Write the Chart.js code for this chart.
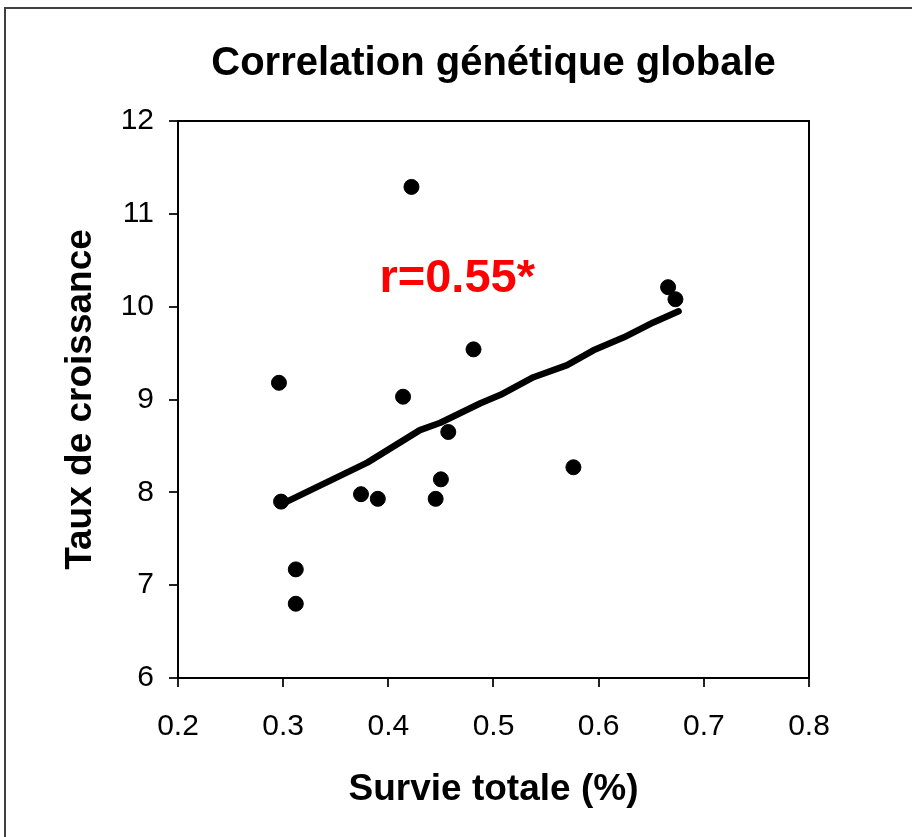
<html>
<head>
<meta charset="utf-8">
<script src="https://cdn.jsdelivr.net/npm/chart.js@4.4.0/dist/chart.umd.min.js"></script>
<style>
  body { margin: 0; background: #fff; }
  #wrap { width: 912px; height: 837px; }
</style>
</head>
<body>
<div id="wrap"><canvas id="corrChart" width="912" height="837"></canvas></div>

<script>
// données
const survie = [0.296, 0.298, 0.312, 0.312, 0.374, 0.390, 0.414, 0.422, 0.445, 0.450, 0.457, 0.481, 0.576, 0.666, 0.673];
const croissance = [9.18, 7.90, 7.17, 6.80, 7.98, 7.93, 9.03, 11.29, 7.93, 8.14, 8.65, 9.54, 8.27, 10.21, 10.08];

// droite de tendance (un peu ondulee sur l'original)
const trendX = [0.3035, 0.380, 0.430, 0.4495, 0.4876, 0.5067, 0.538, 0.570, 0.595, 0.624, 0.652, 0.676];
const trendY = [7.90, 8.32, 8.67, 8.75, 8.96, 9.05, 9.24, 9.37, 9.53, 9.67, 9.83, 9.95];

const xTicks = [0.2, 0.3, 0.4, 0.5, 0.6, 0.7, 0.8];
const yTicks = [6, 7, 8, 9, 10, 11, 12];

const rLabel = 'r=0.55*';
const rPos = [0.4655, 10.30];

const FONT = '"Liberation Sans", Arial, sans-serif';

// cadre du graphique + texte r
const framePlugin = {
  id: 'frame',
  beforeDraw(chart) {
    const ctx = chart.ctx;
    ctx.save();
    ctx.fillStyle = '#fff';
    ctx.fillRect(0, 0, chart.width, chart.height);
    ctx.strokeStyle = '#404040';
    ctx.lineWidth = 2;
    ctx.beginPath();
    ctx.moveTo(5, chart.height);
    ctx.lineTo(5, 8);
    ctx.lineTo(chart.width, 8);
    ctx.stroke();
    ctx.restore();
  },
  afterDraw(chart) {
    const ctx = chart.ctx;
    const a = chart.chartArea;
    ctx.save();
    ctx.strokeStyle = '#000';
    ctx.lineWidth = 2;
    ctx.strokeRect(a.left, a.top, a.right - a.left, a.bottom - a.top);
    const x = chart.scales.x.getPixelForValue(rPos[0]);
    const y = chart.scales.y.getPixelForValue(rPos[1]);
    ctx.fillStyle = '#ff0000';
    ctx.font = 'bold 47px ' + FONT;
    ctx.textAlign = 'center';
    ctx.textBaseline = 'middle';
    ctx.fillText(rLabel, x, y);
    ctx.restore();
  }
};

var ctx = document.getElementById('corrChart').getContext('2d');
var corrChart = new Chart(ctx, {
  type: 'scatter',
  data: {
    datasets: [
      {
        label: 'points',
        data: survie.map((v, i) => ({ x: v, y: croissance[i] })),
        backgroundColor: '#000',
        borderColor: '#000',
        pointRadius: 7.5,
        order: 2
      },
      {
        label: 'tendance',
        type: 'line',
        data: trendX.map((v, i) => ({ x: v, y: trendY[i] })),
        borderColor: '#000',
        borderWidth: 6.5,
        pointRadius: 0,
        tension: 0,
        fill: false,
        borderCapStyle: 'round',
        borderJoinStyle: 'round',
        order: 1
      }
    ]
  },
  options: {
    responsive: false,
    animation: false,
    layout: { padding: { left: 0, right: 103, top: 0, bottom: 0 } },
    plugins: {
      legend: { display: false },
      tooltip: { enabled: false },
      title: {
        display: true,
        fullSize: false,
        text: 'Correlation génétique globale',
        color: '#000',
        font: { family: FONT, size: 40, weight: 'bold', lineHeight: 1.2 },
        padding: { top: 40, bottom: 33 }
      }
    },
    scales: {
      x: {
        type: 'linear',
        min: 0.2,
        max: 0.8,
        afterBuildTicks: (s) => { s.ticks = xTicks.map(v => ({ value: v })); },
        afterFit: (s) => { s.height = 837 - 678; },
        grid: { display: true, drawOnChartArea: false, drawTicks: true, tickLength: 9, color: '#222', lineWidth: 2 },
        border: { display: true, color: '#000', width: 2 },
        ticks: {
          color: '#000',
          font: { family: FONT, size: 30 },
          padding: 22,
          maxRotation: 0,
          callback: (v) => Number(v).toFixed(1)
        },
        title: {
          display: true,
          text: 'Survie totale (%)',
          color: '#000',
          font: { family: FONT, size: 37, weight: 'bold', lineHeight: 1.2 },
          padding: { top: 0, bottom: 25 }
        }
      },
      y: {
        type: 'linear',
        min: 6,
        max: 12,
        afterBuildTicks: (s) => { s.ticks = yTicks.map(v => ({ value: v })); },
        afterFit: (s) => { s.width = 178; },
        grid: { display: true, drawOnChartArea: false, drawTicks: true, tickLength: 9, color: '#222', lineWidth: 2 },
        border: { display: true, color: '#000', width: 2 },
        ticks: {
          color: '#000',
          font: { family: FONT, size: 30 },
          padding: 15
        },
        title: {
          display: true,
          text: 'Taux de croissance',
          color: '#000',
          font: { family: FONT, size: 37, weight: 'bold', lineHeight: 1.2 },
          padding: { top: 59, bottom: 0 }
        }
      }
    }
  },
  plugins: [framePlugin]
});
</script>
</body>
</html>
